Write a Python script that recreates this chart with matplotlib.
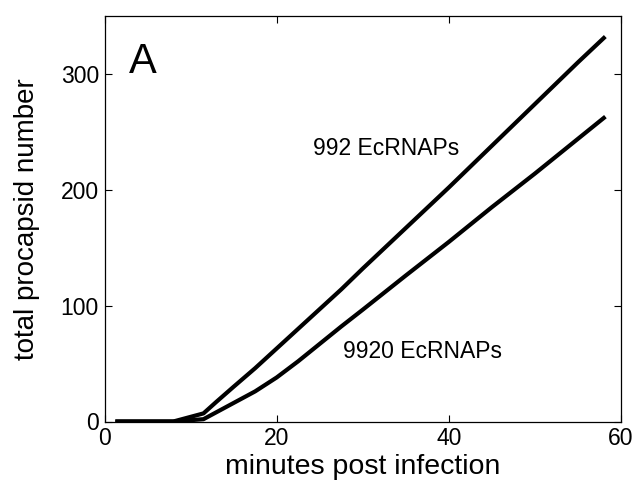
import matplotlib.pyplot as plt

plt.rcParams['font.family'] = ['Liberation Sans', 'DejaVu Sans']

# minutes post infection
t = [1.5, 5, 8, 11.5, 13, 15, 17.5, 20, 22.5, 25, 27.5, 30, 35, 40, 45, 50, 55, 58]
# total procapsid number for the two EcRNAP levels
n_992 = [0, 0, 0, 7, 17, 30, 46, 63, 80, 97, 114, 132, 167, 202, 238, 274, 310, 331]
n_9920 = [0, 0, 0, 2, 8, 16, 26, 38, 52, 67, 82, 96.5, 126, 155, 185, 214, 244, 262]

fig = plt.figure(figsize=(6.36, 4.88), dpi=100)
ax = fig.add_axes([104.5 / 636, 1 - 421.5 / 488, (621 - 104.5) / 636, (421.5 - 16) / 488])

ax.plot(t, n_992, 'k-', lw=3)
ax.plot(t, n_9920, 'k-', lw=3)

ax.set_xlim(0, 60)
ax.set_ylim(0, 350)
ax.set_xticks([0, 20, 40, 60])
ax.set_yticks([0, 100, 200, 300])
ax.tick_params(direction='in', top=True, right=True, labelsize=16.5, length=5, width=0.8, pad=4)
for s in ax.spines.values():
    s.set_linewidth(0.9)

ax.set_xlabel('minutes post infection', fontsize=20.5, labelpad=3)
ax.set_ylabel('total procapsid number', fontsize=20, labelpad=15)

ax.text(4.5, 310, 'A', fontsize=30, ha='center', va='center')
ax.text(32.7, 236, '992 EcRNAPs', fontsize=16.5, ha='center', va='center')
ax.text(36.9, 60, '9920 EcRNAPs', fontsize=16.5, ha='center', va='center')

fig.savefig('out.png', dpi=100)
